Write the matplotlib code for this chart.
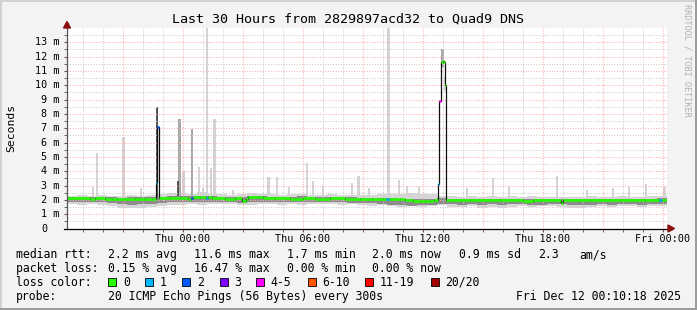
import matplotlib
matplotlib.use('Agg')
import matplotlib.pyplot as plt
import matplotlib.patches as mpatches
import numpy as np

# ── data (hours relative to Thu 00:00, values in ms) ─────────────
XMIN, XMAX = -5.8, 24.2
x_ticks = [0, 6, 12, 18, 24]
x_labels = ['Thu 00:00', 'Thu 06:00', 'Thu 12:00', 'Thu 18:00', 'Fri 00:00']
y_ticks = list(range(0, 14))

loss_labels = ['0', '1', '2', '3', '4-5', '6-10', '11-19', '20/20']
loss_colors = ['#26ff00', '#00b8ff', '#0059ff', '#7e00ff',
               '#ff00ff', '#ff5500', '#ff0000', '#a10000']

# median rtt, step changes
med_t = [-5.8, -4.64, -4.39, -3.89, -3.54, -3.29, -2.89, -2.39, -1.89, -1.54,
         -1.37, -1.285, -1.2, -0.64, -0.14, 0.27, 0.415, 0.515, 0.87, 1.14,
         1.24, 1.47, 2.12, 2.62, 2.97, 3.17, 3.27, 3.77, 4.02, 4.62,
         5.37, 6.02, 6.62, 7.37, 8.12, 8.87, 9.47, 10.02, 10.14, 10.32,
         10.87, 11.12, 11.52, 11.87, 12.12, 12.37, 12.57, 12.73, 12.815, 12.9,
         12.98, 13.065, 13.115, 13.15, 14.37, 15.87, 17.02, 17.52, 18.92, 19.02,
         20.37, 21.87, 23.12, 23.82, 23.94]
med_v = [2.10, 2.06, 2.10, 2.08, 2.04, 2.09, 2.07, 2.05, 2.08, 2.06,
         3.2, 7.1, 2.12, 2.10, 2.12, 2.08, 2.10, 2.20, 2.22, 2.15,
         2.17, 2.10, 2.08, 2.10, 1.95, 2.05, 2.20, 2.18, 2.12, 2.10,
         2.08, 2.12, 2.08, 2.10, 2.07, 2.09, 2.06, 2.03, 2.03, 2.05,
         2.06, 1.97, 1.93, 1.90, 1.95, 1.92, 1.98, 3.1, 8.9, 11.65,
         11.7, 11.6, 10.0, 2.0, 1.98, 2.0, 1.9, 2.0, 1.75, 1.98,
         2.0, 1.98, 2.0, 2.0, 2.02]
med_loss = [0, 0, 0, 0, 0, 0, 0, 0, 0, 0,
            1, 2, 0, 0, 0, 0, 2, 0, 0, 1,
            0, 0, 0, 0, 0, 0, 0, 0, 0, 0,
            0, 0, 0, 0, 0, 0, 0, 0, 1, 0,
            0, 0, 0, 0, 0, 0, 0, 1, 4, 0,
            0, 0, 0, 0, 0, 0, 0, 0, 0, 0,
            0, 0, 0, 1, 0]

# smoke, 30 minute bins
outer_lo = [1.70, 1.64, 1.72, 1.66, 1.60, 1.45, 1.40, 1.42, 1.48, 1.58,
            1.66, 1.62, 1.68, 1.64, 1.70, 1.74, 1.68, 1.62, 1.66, 1.72,
            1.68, 1.64, 1.70, 1.66, 1.72, 1.68, 1.72, 1.66, 1.70, 1.64,
            1.58, 1.62, 1.54, 1.50, 1.56, 1.52, 1.58, 1.66, 1.50, 1.48,
            1.54, 1.46, 1.52, 1.44, 1.50, 1.56, 1.48, 1.54, 1.58, 1.50,
            1.46, 1.44, 1.50, 1.56, 1.48, 1.54, 1.58, 1.50, 1.56, 1.54]
outer_hi = [2.28, 2.32, 2.30, 2.35, 2.30, 2.28, 2.32, 2.30, 2.35, 2.40,
            2.45, 2.50, 2.42, 2.55, 2.40, 2.38, 2.35, 2.40, 2.45, 2.38,
            2.40, 2.35, 2.38, 2.42, 2.36, 2.34, 2.38, 2.35, 2.32, 2.36,
            2.34, 2.40, 2.38, 2.42, 2.45, 2.40, 2.38, 2.30, 2.25, 2.22,
            2.24, 2.20, 2.26, 2.22, 2.25, 2.20, 2.24, 2.22, 2.20, 2.18,
            2.22, 2.20, 2.24, 2.22, 2.20, 2.25, 2.22, 2.20, 2.24, 2.26]
inner_lo = [1.84, 1.82, 1.86, 1.82, 1.80, 1.70, 1.66, 1.70, 1.74, 1.80,
            1.84, 1.82, 1.86, 1.84, 1.87, 1.86, 1.84, 1.80, 1.84, 1.86,
            1.84, 1.82, 1.84, 1.86, 1.84, 1.82, 1.84, 1.82, 1.80, 1.78,
            1.77, 1.72, 1.66, 1.62, 1.60, 1.64, 1.62, 1.72, 1.70, 1.67,
            1.72, 1.66, 1.70, 1.64, 1.68, 1.72, 1.64, 1.67, 1.72, 1.68,
            1.64, 1.62, 1.67, 1.70, 1.64, 1.68, 1.72, 1.66, 1.70, 1.68]
inner_hi = [2.18, 2.20, 2.18, 2.20, 2.17, 2.16, 2.18, 2.17, 2.20, 2.22,
            2.24, 2.27, 2.26, 2.30, 2.24, 2.22, 2.20, 2.18, 2.24, 2.24,
            2.22, 2.20, 2.22, 2.24, 2.20, 2.18, 2.20, 2.18, 2.17, 2.16,
            2.14, 2.12, 2.10, 2.08, 2.07, 2.06, 2.08, 2.12, 2.08, 2.07,
            2.08, 2.06, 2.08, 2.07, 2.08, 2.06, 2.08, 2.07, 2.06, 2.06,
            2.07, 2.06, 2.08, 2.07, 2.06, 2.08, 2.07, 2.06, 2.08, 2.10]

# single-ping outliers (time, bottom, top, shade)
spike_t = [-4.5, -4.3, -2.99, -2.1, -1.31, -0.19, -0.25, 0.03, 0.45, 0.8,
           1.0, 1.2, 1.4, 1.57, 2.5, 4.27, 4.7, 5.3, 6.2, 6.5,
           7.0, 8.45, 8.77, 9.3, 10.28, 10.8, 11.2, 11.8, 12.98, 13.09,
           14.2, 15.5, 16.3, 18.7, 20.2, 21.5, 22.3, 23.15, 24.06]
spike_lo = [2.2, 2.2, 2.2, 2.2, 2.0, 2.2, 2.2, 2.2, 2.2, 2.2,
            2.2, 2.2, 2.2, 2.2, 2.2, 2.2, 2.2, 2.2, 2.2, 2.2,
            2.2, 2.2, 2.2, 2.2, 2.2, 2.2, 2.1, 2.1, 11.3, 9.6,
            2.1, 2.1, 2.1, 2.1, 2.1, 2.1, 2.1, 2.1, 2.1]
spike_hi = [2.9, 5.3, 6.4, 2.8, 8.45, 7.65, 3.3, 4.0, 6.95, 4.3,
            2.8, 14.5, 4.2, 7.65, 2.7, 3.6, 3.6, 2.9, 4.55, 3.3,
            3.0, 3.2, 3.7, 2.8, 14.5, 3.4, 3.0, 2.9, 12.5, 10.6,
            2.8, 3.5, 2.9, 3.7, 2.7, 2.8, 2.9, 3.1, 2.9]
spike_shade = [0, 0, 0, 0, 2, 1, 2, 0, 1, 0,
               0, 0, 0, 0, 0, 0, 0, 0, 0, 0,
               0, 0, 0, 0, 0, 0, 0, 0, 1, 0,
               0, 0, 0, 0, 0, 0, 0, 0, 0]

# ── style ───────────────────────────────────────────────────────
W, H = 697, 310
MONO = 'DejaVu Sans Mono'
BG = '#f3f3f3'
GRID_MINOR = '#cccccc'
GRID_MAJOR = '#ffa8a8'
ARROW = '#8b1010'
SHADES = ['#d4d4d4', '#a9a9a9', '#555555']

def fx(x):
    return x / W

def fy(y):
    return 1 - y / H

fig = plt.figure(figsize=(W / 100, H / 100), dpi=100, facecolor=BG)
ax = fig.add_axes([fx(67), fy(228.5), 600 / W, 200.5 / H])
ax.set_facecolor('white')
ax.set_xlim(XMIN, XMAX)
ax.set_ylim(0, 14)

# smoke
edges = np.linspace(XMIN, XMAX, len(outer_lo) + 1)
ax.fill_between(edges, outer_lo + [outer_lo[-1]], outer_hi + [outer_hi[-1]],
                step='post', color='#d6d6d6', lw=0, zorder=2)
ax.bar(spike_t, np.subtract(spike_hi, spike_lo), bottom=spike_lo, width=0.13,
       color=[SHADES[s] for s in spike_shade], lw=0, zorder=2.5)
ax.fill_between(edges, inner_lo + [inner_lo[-1]], inner_hi + [inner_hi[-1]],
                step='post', color='#8c8c8c', lw=0, zorder=3)

# grid
for y in np.arange(0.5, 14, 1.0):
    ax.axhline(y, color=GRID_MINOR, lw=0.75, ls=(0, (1, 1.5)), zorder=4)
for y in range(1, 14):
    ax.axhline(y, color=GRID_MAJOR, lw=0.75, ls=(0, (1, 1.5)), zorder=4)
for h in range(-5, 25):
    c = GRID_MAJOR if h % 3 == 0 else GRID_MINOR
    ax.axvline(h, color=c, lw=0.75, ls=(0, (1, 1.5)), zorder=4)

# median, coloured by loss
m_end = med_t[1:] + [XMAX]
ax.step(med_t + [XMAX], med_v + [med_v[-1]], where='post', color='#111111', lw=0.9, zorder=6)
ax.hlines(med_v, med_t, m_end, colors=[loss_colors[l] for l in med_loss], lw=1.9, zorder=7)

# axes
for s in ax.spines.values():
    s.set_visible(False)
ax.plot([0, 0], [0, 1.025], transform=ax.transAxes, color='#555555', lw=0.9, clip_on=False, zorder=8)
ax.plot([-0.005, 1.008], [0, 0], transform=ax.transAxes, color='black', lw=0.9, clip_on=False, zorder=8)
fig.patches.append(mpatches.Polygon([[fx(63.5), fy(28)], [fx(70.5), fy(28)], [fx(67), fy(21.5)]],
                                    closed=True, color=ARROW, transform=fig.transFigure))
fig.patches.append(mpatches.Polygon([[fx(668), fy(225)], [fx(668), fy(232)], [fx(674.5), fy(228.5)]],
                                    closed=True, color=ARROW, transform=fig.transFigure))

ax.set_xticks(x_ticks, x_labels, fontfamily=MONO, fontsize=7.3)
ax.set_xticks(range(-5, 25), minor=True)
ax.tick_params(axis='x', which='both', length=2, color='#555555', pad=2.0)
ax.set_yticks(y_ticks, [''] * len(y_ticks))
ax.set_yticks(np.arange(0.5, 14, 1.0), minor=True)
ax.tick_params(axis='y', which='both', length=2, color='#555555')
ytr = ax.get_yaxis_transform()
for v in y_ticks:
    if v == 0:
        ax.text(-20 / 600, v, '0', transform=ytr, ha='right', va='center',
                fontfamily=MONO, fontsize=7.3)
    else:
        ax.text(-7.5 / 600, v, f'{v} m', transform=ytr, ha='right', va='center',
                fontfamily=MONO, fontsize=7.3)

# ── texts ───────────────────────────────────────────────────────
fig.text(fx(348), fy(19.3), 'Last 30 Hours from 2829897acd32 to Quad9 DNS',
         ha='center', va='center', fontfamily=MONO, fontsize=9.6)
fig.text(fx(11), fy(128), 'Seconds', rotation=90, ha='center', va='center',
         fontfamily=MONO, fontsize=8.2)
fig.text(fx(687.5), fy(60), 'RRDTOOL / TOBI OETIKER', rotation=270, ha='center', va='center',
         fontfamily=MONO, fontsize=6.1, color='#b0b0b0')

LEG = dict(fontfamily=MONO, fontsize=8.3, va='center', ha='left')
rows = [
    (254.7, [(16, 'median rtt:'), (107.6, '2.2 ms avg'), (193.8, '11.6 ms max'),
             (286.7, '1.7 ms min'), (372.4, '2.0 ms now'), (458.7, '0.9 ms sd'),
             (537.8, '2.3'), (579.1, 'am/s')]),
    (268.7, [(16, 'packet loss:'), (107.6, '0.15 % avg'), (193.8, '16.47 % max'),
             (286.7, '0.00 % min'), (372.4, '0.00 % now')]),
    (282.3, [(16, 'loss color:')]),
    (296.7, [(16, 'probe:'), (107.6, '20 ICMP Echo Pings (56 Bytes) every 300s')]),
]
for y, items in rows:
    for x, s in items:
        fig.text(fx(x), fy(y), s, **LEG)
fig.text(fx(680.5), fy(296.7), 'Fri Dec 12 00:10:18 2025', fontfamily=MONO, fontsize=8.3,
         va='center', ha='right')

box_x = [108.4, 145.3, 182.2, 219.6, 256.2, 307.7, 365.1, 430.6]
for bx, lab, col in zip(box_x, loss_labels, loss_colors):
    fig.patches.append(mpatches.Rectangle((fx(bx), fy(286.3)), 8 / W, 8 / H, facecolor=col,
                                          edgecolor='black', lw=0.6, transform=fig.transFigure))
    fig.text(fx(bx + 14.5), fy(282.3), lab, **LEG)

# frame
for (x0, y0, w, h, c) in [(0, 1 - 2 / H, 1, 2 / H, '#d2d2d2'), (0, 0, 2 / W, 1, '#d2d2d2'),
                          (0, 0, 1, 2 / H, '#9c9c9c'), (1 - 2 / W, 0, 2 / W, 1, '#9c9c9c')]:
    fig.patches.append(mpatches.Rectangle((x0, y0), w, h, color=c, lw=0, transform=fig.transFigure))

fig.savefig('out.png', dpi=100, facecolor=BG)
plt.close(fig)
